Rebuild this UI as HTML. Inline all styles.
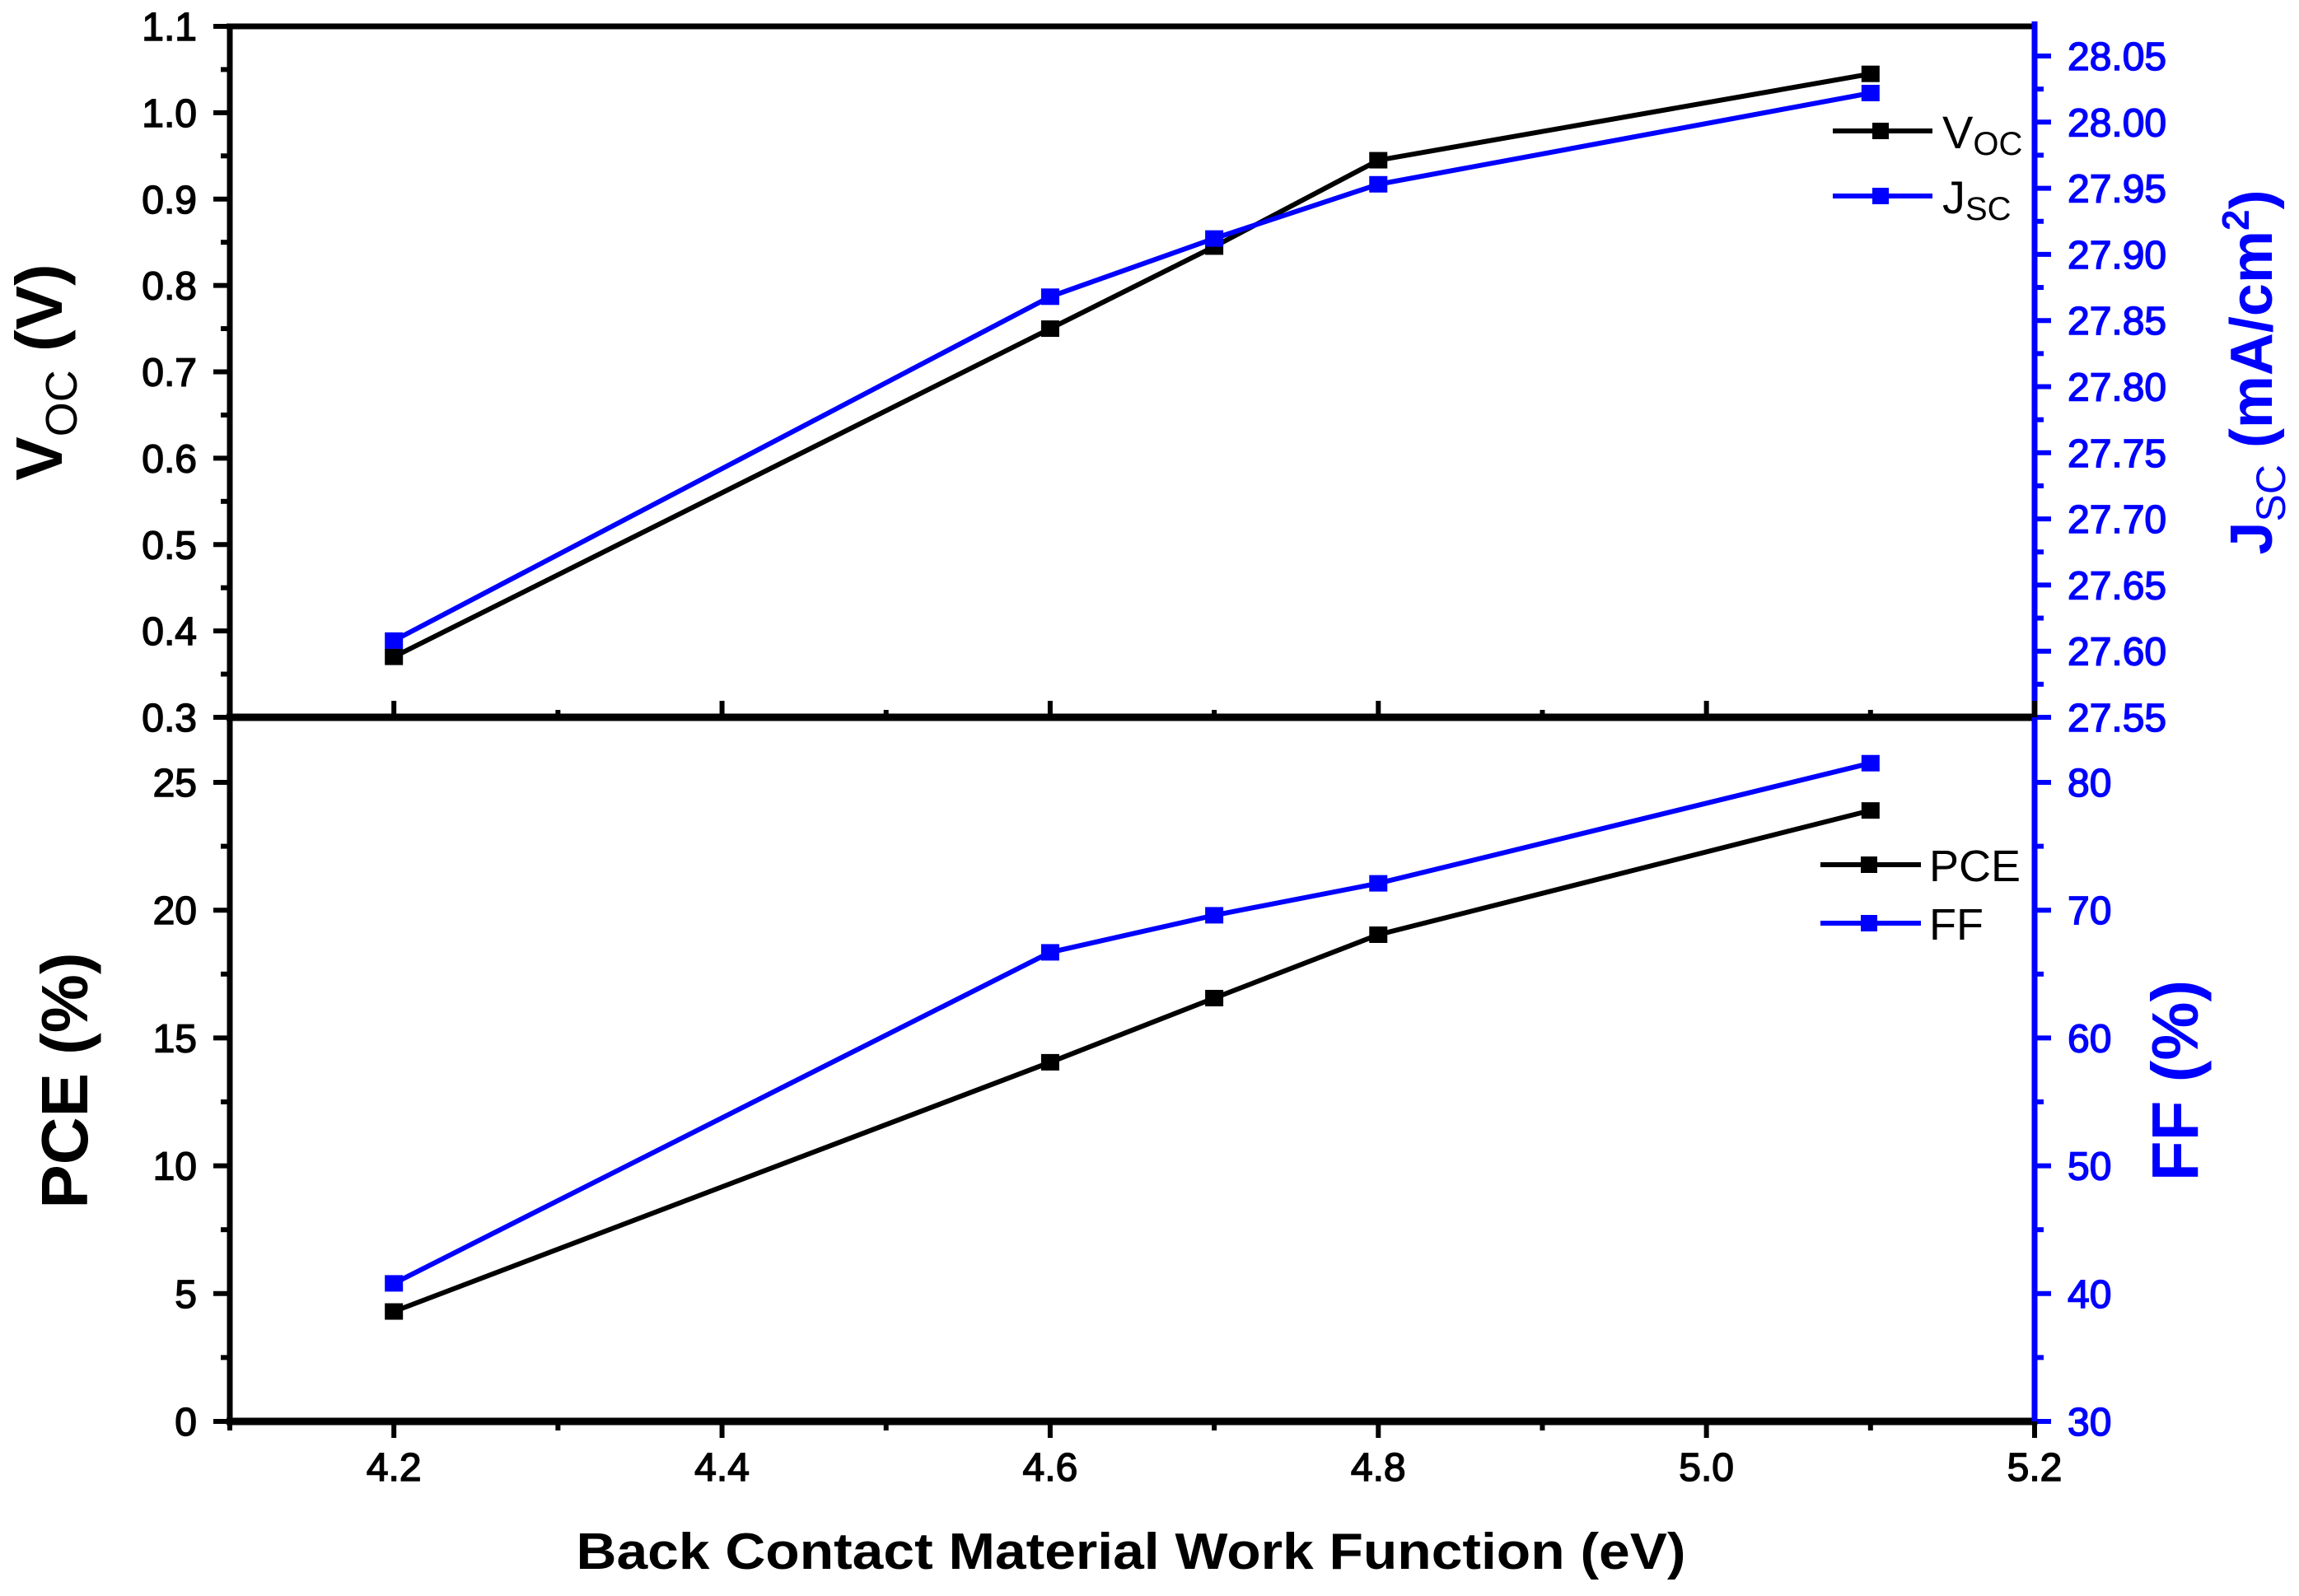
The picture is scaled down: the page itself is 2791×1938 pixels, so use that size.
<!DOCTYPE html>
<html><head><meta charset="utf-8"><style>
html,body{margin:0;padding:0;background:#fff;}
svg{display:block;font-family:"Liberation Sans",Arial,sans-serif;}
</style></head><body>
<svg id="chart" width="2791" height="1938" viewBox="0 0 2791 1938" xmlns="http://www.w3.org/2000/svg">
<rect width="2791" height="1938" fill="#fff"/>
<g id="topPanel"></g>
<g id="botPanel"></g>
<g id="axes"></g>
<text x="1373" y="1905" font-size="62" font-weight="bold" text-anchor="middle" textLength="1347" lengthAdjust="spacingAndGlyphs">Back Contact Material Work Function (eV)</text>
<text transform="translate(75,452) rotate(-90)" font-size="80" font-weight="bold" text-anchor="middle">V<tspan font-size="54" font-weight="normal" dy="18">OC</tspan><tspan dy="-18"> (V)</tspan></text>
<text transform="translate(2758,452) rotate(-90)" font-size="72" font-weight="bold" fill="#0000ff" text-anchor="middle">J<tspan font-size="50" font-weight="normal" dy="16">SC</tspan><tspan dy="-16"> (mA/cm</tspan><tspan font-size="46" dy="-28">2</tspan><tspan dy="28">)</tspan></text>
<text transform="translate(106,1312) rotate(-90)" font-size="80" font-weight="bold" text-anchor="middle">PCE (%)</text>
<text transform="translate(2668,1312) rotate(-90)" font-size="80" font-weight="bold" fill="#0000ff" text-anchor="middle">FF (%)</text>
<g>
<line x1="2225" y1="159" x2="2346" y2="159" stroke="#000" stroke-width="6"/><rect x="2273" y="149" width="20" height="20" fill="#000"/>
<text x="2358" y="180" font-size="56">V<tspan font-size="40" dy="8">OC</tspan></text>
<line x1="2225" y1="238" x2="2346" y2="238" stroke="#0000ff" stroke-width="6"/><rect x="2273" y="228" width="20" height="20" fill="#0000ff"/>
<text x="2358" y="259" font-size="56">J<tspan font-size="40" dy="8">SC</tspan></text>
</g>
<g>
<line x1="2210" y1="1050" x2="2332" y2="1050" stroke="#000" stroke-width="6"/><rect x="2259" y="1040" width="20" height="20" fill="#000"/>
<text x="2342" y="1070" font-size="54">PCE</text>
<line x1="2210" y1="1121" x2="2332" y2="1121" stroke="#0000ff" stroke-width="6"/><rect x="2259" y="1111" width="20" height="20" fill="#0000ff"/>
<text x="2342" y="1141" font-size="54">FF</text>
</g>
</svg>
<script>
const workFunction = [4.2, 4.6, 4.7, 4.8, 5.1];
const vocValues = [0.37, 0.75, 0.845, 0.945, 1.045];
const jscValues = [27.608, 27.868, 27.912, 27.953, 28.022];
const pceValues = [4.3, 14.05, 16.56, 19.04, 23.9];
const ffValues = [40.8, 66.7, 69.6, 72.1, 81.5];
const xTicks = [4.2, 4.4, 4.6, 4.8, 5.0, 5.2];
const xTickLabels = ["4.2", "4.4", "4.6", "4.8", "5.0", "5.2"];
const vocTicks = [0.3, 0.4, 0.5, 0.6, 0.7, 0.8, 0.9, 1.0, 1.1];
const jscTicks = [27.55, 27.60, 27.65, 27.70, 27.75, 27.80, 27.85, 27.90, 27.95, 28.00, 28.05];
const pceTicks = [0, 5, 10, 15, 20, 25];
const ffTicks = [30, 40, 50, 60, 70, 80];

const NS = "http://www.w3.org/2000/svg";
const L = 279, R = 2470, T1 = 32, B1 = 871, B2 = 1726;
const xS = v => L + (v - 4.1) / 1.1 * (R - L);
const yVoc = v => B1 - (v - 0.3) / 0.8 * (B1 - T1);
const yJsc = v => B1 - (v - 27.55) * 1606;
const yPce = v => B2 - v * 31.04;
const yFF = v => B2 - (v - 30) * 15.52;

function mk(parent, tag, attrs, text) {
  const e = document.createElementNS(NS, tag);
  for (const k in attrs) e.setAttribute(k, attrs[k]);
  if (text !== undefined) e.textContent = text;
  parent.appendChild(e);
  return e;
}
const axesG = document.getElementById("axes");
const topG = document.getElementById("topPanel");
const botG = document.getElementById("botPanel");

function series(g, xs, ys, yf, color, name) {
  const pts = xs.map((x, i) => xS(x).toFixed(1) + "," + yf(ys[i]).toFixed(1)).join(" ");
  const pl = mk(g, "polyline", {points: pts, fill: "none", stroke: color, "stroke-width": 6});
  
  
  xs.forEach((x, i) => {
    const r = mk(g, "rect", {x: xS(x) - 11, y: yf(ys[i]) - 10, width: 22, height: 20, fill: color});
    
    
  });
}
series(topG, workFunction, vocValues, yVoc, "#000", "voc");
series(topG, workFunction, jscValues, yJsc, "#0000ff", "jsc");
series(botG, workFunction, pceValues, yPce, "#000", "pce");
series(botG, workFunction, ffValues, yFF, "#0000ff", "ff");

mk(axesG, "line", {x1: L - 4, y1: T1, x2: R, y2: T1, stroke: "#000", "stroke-width": 7});
mk(axesG, "line", {x1: L, y1: T1 - 3, x2: L, y2: B2 + 4, stroke: "#000", "stroke-width": 7});
mk(axesG, "line", {x1: L - 4, y1: B1, x2: R, y2: B1, stroke: "#000", "stroke-width": 9});
mk(axesG, "line", {x1: L - 4, y1: B2, x2: R, y2: B2, stroke: "#000", "stroke-width": 9});
mk(axesG, "line", {x1: R, y1: T1 - 6, x2: R, y2: B2 + 4, stroke: "#0000ff", "stroke-width": 7});

function yAxis(ticks, yf, side, color, fmt, name) {
  ticks.forEach((t, i) => {
    const y = yf(t);
    const x0 = side < 0 ? L : R;
    mk(axesG, "line", {x1: x0, y1: y, x2: x0 + side * 20, y2: y, stroke: color, "stroke-width": 6});
    if (i < ticks.length - 1) {
      const ym = (y + yf(ticks[i + 1])) / 2;
      mk(axesG, "line", {x1: x0, y1: ym, x2: x0 + side * 11, y2: ym, stroke: color, "stroke-width": 6});
    }
    const tx = mk(axesG, "text", {x: side < 0 ? L - 40 : R + 40, y: y + 17, "font-size": 48, fill: color, stroke: color, "stroke-width": 1.5, "text-anchor": side < 0 ? "end" : "start"}, fmt(t));
    
    
  });
}
yAxis(vocTicks, yVoc, -1, "#000", v => v.toFixed(1), "voc");
yAxis(jscTicks, yJsc, 1, "#0000ff", v => v.toFixed(2), "jsc");
yAxis(pceTicks, yPce, -1, "#000", v => String(v), "pce");
yAxis(ffTicks, yFF, 1, "#0000ff", v => String(v), "ff");

xTicks.forEach((t, i) => {
  const x = xS(t);
  mk(axesG, "line", {x1: x, y1: B2, x2: x, y2: B2 + 20, stroke: "#000", "stroke-width": 6});
  mk(axesG, "line", {x1: x, y1: B1, x2: x, y2: B1 - 20, stroke: "#000", "stroke-width": 6});
  const xm = x - (xS(0.2) - xS(0)) / 2;
  mk(axesG, "line", {x1: xm, y1: B2, x2: xm, y2: B2 + 11, stroke: "#000", "stroke-width": 6});
  mk(axesG, "line", {x1: xm, y1: B1, x2: xm, y2: B1 - 9, stroke: "#000", "stroke-width": 6});
  const tx = mk(axesG, "text", {x: x, y: 1798, "font-size": 48, stroke: "#000", "stroke-width": 1.5, "text-anchor": "middle"}, xTickLabels[i]);
  
  
});
</script>
</body></html>
